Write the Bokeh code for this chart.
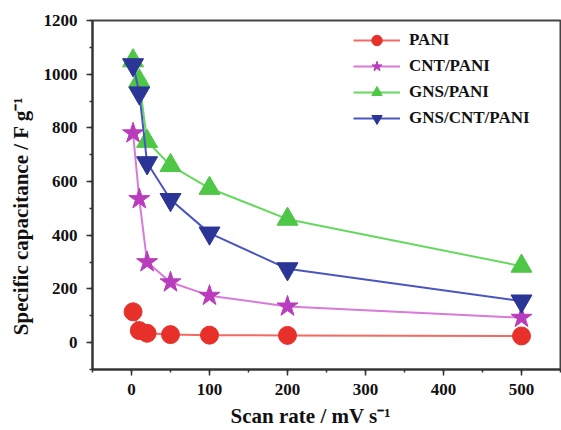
from bokeh.plotting import figure
from bokeh.models import Range1d, Legend, LegendItem, FixedTicker
from bokeh.embed import file_html
from bokeh.resources import INLINE

# ---- data ----
scan_rate = [2, 10, 20, 50, 100, 200, 500]
pani = [115, 45, 35, 30, 28, 27, 25]
cnt_pani = [780, 535, 300, 225, 175, 135, 93]
gns_pani = [1050, 975, 750, 660, 575, 460, 285]
gns_cnt_pani = [1035, 930, 670, 533, 408, 275, 155]

series_names = ["PANI", "CNT/PANI", "GNS/PANI", "GNS/CNT/PANI"]
x_ticks = [0, 100, 200, 300, 400, 500]
y_ticks = [0, 200, 400, 600, 800, 1000, 1200]
x_title = "Scan rate / mV s\u207b\u00b9"
y_title = "Specific capacitance / F g\u207b\u00b9"

FONT = "Liberation Serif"

p = figure(width=561, height=430, output_backend="svg", toolbar_location=None,
           x_range=Range1d(-50, 550), y_range=Range1d(-100, 1200),
           min_border_left=92, min_border_right=1, min_border_top=20, min_border_bottom=59)
p.xgrid.visible = False
p.ygrid.visible = False
p.outline_line_color = "#444444"
p.outline_line_width = 2
p.background_fill_color = "white"
p.border_fill_color = "white"

for ax in (p.xaxis[0], p.yaxis[0]):
    ax.axis_line_color = "#333333"
    ax.axis_line_width = 2
    ax.major_tick_line_color = "#333333"
    ax.minor_tick_line_color = "#333333"
    ax.major_tick_line_width = 1.5
    ax.minor_tick_line_width = 1.5
    ax.major_tick_in = 0
    ax.major_tick_out = 6
    ax.minor_tick_in = 0
    ax.minor_tick_out = 3
    ax.major_label_text_font = FONT
    ax.major_label_text_font_style = "bold"
    ax.major_label_text_font_size = "17px"
    ax.major_label_text_color = "#111111"
    ax.axis_label_text_font = FONT
    ax.axis_label_text_font_style = "bold"
    ax.axis_label_text_font_size = "21px"
    ax.axis_label_text_color = "#111111"

p.xaxis[0].ticker = FixedTicker(ticks=x_ticks, minor_ticks=[-50 + 50 * i for i in range(13)])
p.yaxis[0].ticker = FixedTicker(ticks=y_ticks, minor_ticks=[-100 + 100 * i for i in range(14)])
p.xaxis[0].major_label_standoff = 8
p.yaxis[0].major_label_standoff = 9
# trailing no-break spaces nudge the centred titles toward their start, as in the reference
p.xaxis[0].axis_label = x_title + "\u00a0" * 6
p.yaxis[0].axis_label = y_title + "\u00a0" * 8
p.xaxis[0].axis_label_standoff = 6
p.yaxis[0].axis_label_standoff = 8

styles = [
    (pani, "#e8302a", "#f26a62", "circle", 18),
    (cnt_pani, "#b83cbc", "#d77ad8", "star", 22),
    (gns_pani, "#4ec646", "#66d860", "triangle", 21),
    (gns_cnt_pani, "#2a3596", "#4a55c0", "inverted_triangle", 21),
]

items = []
for name, (vals, mcol, lcol, mk, sz) in zip(series_names, styles):
    lr = p.line(scan_rate, vals, line_color=lcol, line_width=2)
    sr = p.scatter(scan_rate, vals, marker=mk, size=sz, fill_color=mcol, line_color=mcol)
    items.append(LegendItem(label=name, renderers=[lr, sr]))

legend = Legend(items=items, location=(261, 238), margin=0, padding=0,
                border_line_alpha=0, background_fill_alpha=0,
                glyph_width=47, glyph_height=26, label_height=26, spacing=0,
                label_standoff=9, label_text_font=FONT, label_text_font_style="bold",
                label_text_font_size="17px", label_text_color="#111111")
p.add_layout(legend, "center")

open("out.html", "w").write(file_html(p, INLINE))
